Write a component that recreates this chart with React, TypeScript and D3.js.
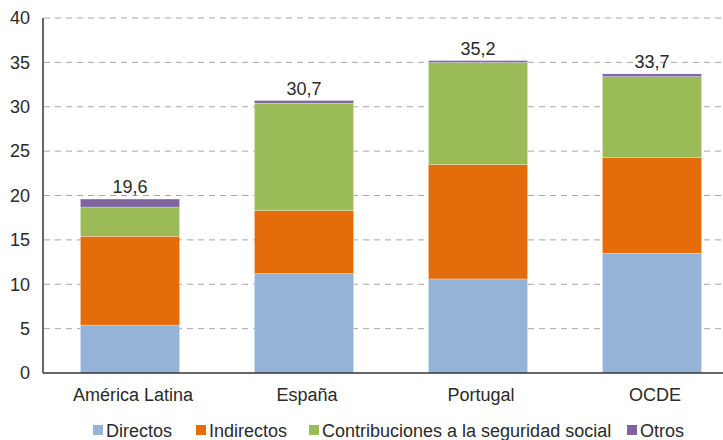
import * as d3 from "d3";

const width = 723;
const height = 440;
const margin = { top: 18, bottom: 67, left: 43, right: 0 };

const categories = ["América Latina", "España", "Portugal", "OCDE"];
const series = ["Directos", "Indirectos", "Contribuciones a la seguridad social", "Otros"];
const directos = [5.4, 11.2, 10.6, 13.5];
const indirectos = [10.0, 7.1, 12.9, 10.8];
const contribuciones = [3.3, 12.1, 11.5, 9.1];
const otros = [0.9, 0.3, 0.2, 0.3];
const totals = ["19,6", "30,7", "35,2", "33,7"];
const yTicks = [0, 5, 10, 15, 20, 25, 30, 35, 40];
const colors = ["#95b3d7", "#e46c0a", "#9bbb59", "#8064a2"];

// legend layout (x of each swatch)
const legendX = [93, 196, 309, 627];

const font = "'Liberation Sans', Arial, sans-serif";
const fs = 18;

export default function App() {
  const rows = categories.map((c, i) => ({
    category: c,
    Directos: directos[i],
    Indirectos: indirectos[i],
    "Contribuciones a la seguridad social": contribuciones[i],
    Otros: otros[i],
  }));
  const stacked = d3.stack<any>().keys(series)(rows);

  const y = d3.scaleLinear().domain([0, 40]).range([height - margin.bottom, margin.top]);
  const x = d3
    .scaleBand()
    .domain(categories)
    .range([margin.left, 739])
    .paddingInner(0.43)
    .paddingOuter(0.215);

  return (
    <div style={{ position: "absolute", left: 0, top: 0 }}>
      <svg width={width} height={height} style={{ display: "block", fontFamily: font }}>
        <rect width={width} height={height} fill="#fff" />
        {yTicks.map((t) => (
          <g key={t}>
            {t > 0 && (
              <line
                x1={margin.left + 1}
                x2={width}
                y1={y(t)}
                y2={y(t)}
                stroke="#a6a6a6"
                strokeWidth={1}
                strokeDasharray="6,5"
              />
            )}
            <text x={30} y={y(t)} dy="0.35em" textAnchor="end" fontSize={fs} fill="#2a2a2a">
              {t}
            </text>
          </g>
        ))}
        {stacked.map((s, si) => (
          <g key={s.key} fill={colors[si]}>
            {s.map((d, i) => (
              <rect
                key={i}
                x={x(categories[i])}
                y={y(d[1])}
                width={x.bandwidth()}
                height={y(d[0]) - y(d[1])}
                stroke="#ffffff"
                strokeOpacity={0.5}
                strokeWidth={0.5}
              />
            ))}
          </g>
        ))}
        {categories.map((c, i) => {
          const top = stacked[stacked.length - 1][i][1];
          return (
            <text
              key={c}
              x={(x(c) as number) + x.bandwidth() / 2}
              y={y(top) - 6}
              textAnchor="middle"
              fontSize={fs}
              fill="#2a2a2a"
            >
              {totals[i]}
            </text>
          );
        })}
        <line x1={margin.left} x2={margin.left} y1={margin.top} y2={y(0)} stroke="#333" strokeWidth={1.5} />
        <line x1={margin.left} x2={width} y1={y(0)} y2={y(0)} stroke="#333" strokeWidth={1.5} />
        {categories.map((c) => (
          <text
            key={c}
            x={(x(c) as number) + x.bandwidth() / 2 + 3}
            y={401}
            textAnchor="middle"
            fontSize={fs}
            fill="#2a2a2a"
          >
            {c}
          </text>
        ))}
        {series.map((s, i) => (
          <g key={s} transform={`translate(${legendX[i]},0)`}>
            <rect x={0} y={425} width={10} height={10} fill={colors[i]} />
            <text x={13} y={437} fontSize={fs} fill="#2a2a2a">
              {s}
            </text>
          </g>
        ))}
      </svg>
    </div>
  );
}
